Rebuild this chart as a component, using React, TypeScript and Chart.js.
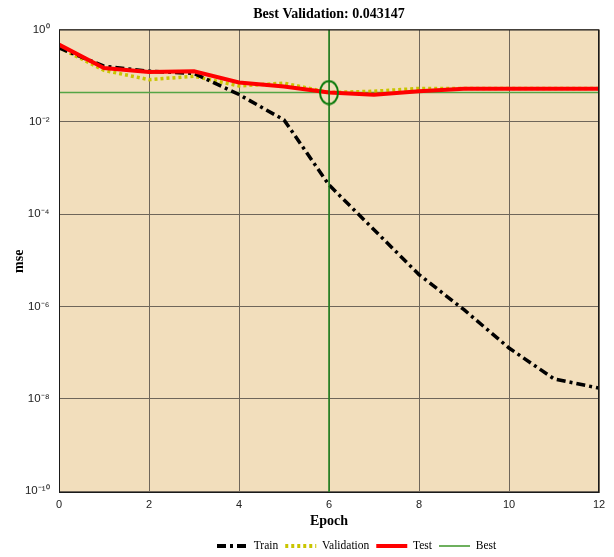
import { useEffect, useRef } from 'react';
import { Chart, registerables } from 'chart.js';

Chart.register(...registerables);

// ---- data ----
const epochs = [0, 1, 2, 3, 4, 5, 6, 7, 8, 9, 10, 11, 12];
const trainMse = [0.40, 0.16, 0.125, 0.112, 0.039, 0.011, 4.3e-4, 4.6e-5, 4.9e-6, 8.5e-7, 1.26e-7, 2.7e-8, 1.7e-8];
const validationMse = [0.41, 0.13, 0.082, 0.097, 0.060, 0.069, 0.043147, 0.046, 0.053, 0.053, 0.053, 0.053, 0.053];
const testMse = [0.47, 0.147, 0.12, 0.124, 0.071, 0.058, 0.0434, 0.0386, 0.046, 0.052, 0.052, 0.052, 0.052];
const bestEpoch = 6;
const bestValidation = 0.043147;
const yTickExponents = [-10, -8, -6, -4, -2, 0];
const yMin = 9.1e-11;
const yMax = 1;
const xMin = 0;
const xMax = 12;
const xStep = 2;
const titleText = 'Best Validation: 0.043147';
const xTitle = 'Epoch';
const yTitle = 'mse';
const legendNames = ['Train', 'Validation', 'Test', 'Best'];

const SERIF = '"Liberation Serif", "Times New Roman", serif';
const SANS = '"Liberation Sans", Arial, sans-serif';

const SUP: Record<string, string> = {
  '0': '\u2070', '1': '\u00B9', '2': '\u00B2', '3': '\u00B3', '4': '\u2074',
  '5': '\u2075', '6': '\u2076', '7': '\u2077', '8': '\u2078', '9': '\u2079', '-': '\u207B',
};
const powLabel = (e: number) => '10' + String(e).split('').map((c) => SUP[c] || c).join('');

function makeEllipse(): HTMLCanvasElement {
  const c = document.createElement('canvas');
  c.width = 22;
  c.height = 26;
  const g = c.getContext('2d')!;
  g.strokeStyle = '#0a7a0a';
  g.lineWidth = 2;
  g.beginPath();
  g.ellipse(11, 13, 9, 11.5, 0, 0, Math.PI * 2);
  g.stroke();
  return c;
}

export default function App() {
  const ref = useRef<HTMLCanvasElement | null>(null);

  useEffect(() => {
    if (!ref.current) return;
    const ellipse = makeEllipse();
    const pts = (arr: number[]) => epochs.map((x, i) => ({ x, y: arr[i] }));

    const colors = {
      train: '#000000',
      validation: '#C9C500',
      test: '#FF0000',
      best: '#55A545',
      bestEpoch: '#1a801a',
    };

    const framePlugin = {
      id: 'frame',
      beforeDraw(chart: any) {
        const { ctx, chartArea: a } = chart;
        ctx.save();
        ctx.fillStyle = '#F2DEBC';
        ctx.fillRect(a.left, a.top, a.right - a.left, a.bottom - a.top);
        ctx.restore();
      },
      afterLayout(chart: any) {
        const lg = chart.legend;
        if (!lg) return;
        const h = lg.height;
        lg.left = 210;
        lg.right = 614;
        lg.top = 533.25;
        lg.bottom = lg.top + h;
      },
      afterDatasetsDraw(chart: any) {
        const { ctx, chartArea: a } = chart;
        ctx.save();
        ctx.strokeStyle = '#1a1a1a';
        ctx.lineWidth = 1;
        ctx.strokeRect(a.left + 0.5, a.top + 0.5, a.right - a.left - 1, a.bottom - a.top - 1);
        ctx.restore();
      },
    };

    const legendStyles = [
      { color: colors.train, width: 4, dash: [9, 4, 3, 4] },
      { color: colors.validation, width: 4, dash: [3, 3] },
      { color: colors.test, width: 4, dash: [] as number[] },
      { color: '#6DB05E', width: 2, dash: [] as number[] },
    ];

    const chart = new Chart(ref.current, {
      type: 'line',
      data: {
        datasets: [
          {
            label: legendNames[0],
            data: pts(trainMse),
            borderColor: colors.train,
            borderWidth: 3.5,
            borderDash: [9, 4, 3, 4],
            pointRadius: 0,
            tension: 0,
            order: 2,
          },
          {
            label: legendNames[1],
            data: pts(validationMse),
            borderColor: colors.validation,
            borderWidth: 3.5,
            borderDash: [3, 3],
            pointRadius: 0,
            tension: 0,
            order: 3,
          },
          {
            label: legendNames[2],
            data: pts(testMse),
            borderColor: colors.test,
            borderWidth: 4,
            pointRadius: 0,
            tension: 0,
            order: 1,
          },
          {
            label: legendNames[3],
            data: [
              { x: epochs[0], y: bestValidation },
              { x: epochs[epochs.length - 1], y: bestValidation },
            ],
            borderColor: colors.best,
            borderWidth: 1.5,
            pointRadius: 0,
            order: 4,
          },
          {
            label: 'best epoch',
            data: [
              { x: bestEpoch, y: yMin },
              { x: bestEpoch, y: yMax },
            ],
            borderColor: colors.bestEpoch,
            borderWidth: 1.5,
            pointRadius: 0,
            order: 0,
          },
          {
            label: 'best point',
            data: [{ x: bestEpoch, y: bestValidation }],
            showLine: false,
            pointStyle: ellipse as any,
            pointRadius: 10,
            borderColor: colors.bestEpoch,
            order: -1,
          },
        ] as any,
      },
      options: {
        animation: false,
        responsive: false,
        events: [],
        layout: { padding: { left: 0, right: 15, top: 0, bottom: 0 } },
        plugins: {
          tooltip: { enabled: false },
          title: {
            display: true,
            text: titleText,
            fullSize: false,
            color: '#000',
            font: { family: SERIF, size: 14, weight: 'bold', lineHeight: 1.2 },
            padding: { top: 5.5, bottom: 7.2 },
          },
          legend: {
            display: true,
            position: 'bottom',
            align: 'start',
            labels: {
              usePointStyle: true,
              pointStyleWidth: 31,
              padding: 7,
              color: '#000',
              font: { family: SERIF, size: 11.5 },
              generateLabels: () =>
                legendNames.map((name, i) => ({
                  text: name,
                  fillStyle: legendStyles[i].color,
                  strokeStyle: legendStyles[i].color,
                  lineWidth: legendStyles[i].width,
                  lineDash: legendStyles[i].dash,
                  lineCap: 'butt',
                  pointStyle: 'line',
                  hidden: false,
                  datasetIndex: i,
                  fontColor: '#000',
                })) as any,
            },
          },
        },
        scales: {
          x: {
            type: 'linear',
            min: xMin,
            max: xMax,
            afterFit: (s: any) => {
              s.height = 35.5;
            },
            ticks: {
              stepSize: xStep,
              padding: 5,
              color: '#222',
              font: { family: SANS, size: 11 },
              maxRotation: 0,
            },
            grid: { color: '#6f665a', lineWidth: 1, drawTicks: false },
            border: { display: false },
            title: {
              display: true,
              text: xTitle,
              color: '#000',
              font: { family: SERIF, size: 14, weight: 'bold', lineHeight: 1 },
              padding: { top: 0, bottom: 0.5 },
            },
          },
          y: {
            type: 'logarithmic',
            min: yMin,
            max: yMax,
            afterFit: (s: any) => {
              s.width = 59;
            },
            afterBuildTicks: (s: any) => {
              s.ticks = yTickExponents.map((e) => ({ value: Math.pow(10, e) }));
            },
            ticks: {
              padding: 9.5,
              color: '#222',
              font: { family: SANS, size: 11.5 },
              callback: (v: any) => powLabel(Math.round(Math.log10(Number(v)))),
            },
            grid: { color: '#6f665a', lineWidth: 1, drawTicks: false },
            border: { display: false },
            title: {
              display: true,
              text: yTitle,
              color: '#000',
              font: { family: SERIF, size: 14, weight: 'bold', lineHeight: 1 },
              padding: { top: 12.3, bottom: 0 },
            },
          },
        },
      } as any,
      plugins: [framePlugin],
    });

    return () => chart.destroy();
  }, []);

  return (
    <div style={{ position: 'fixed', left: 0, top: 0, width: 614, height: 557, background: '#fff' }}>
      <canvas ref={ref} width={614} height={557} style={{ display: 'block' }} />
    </div>
  );
}
